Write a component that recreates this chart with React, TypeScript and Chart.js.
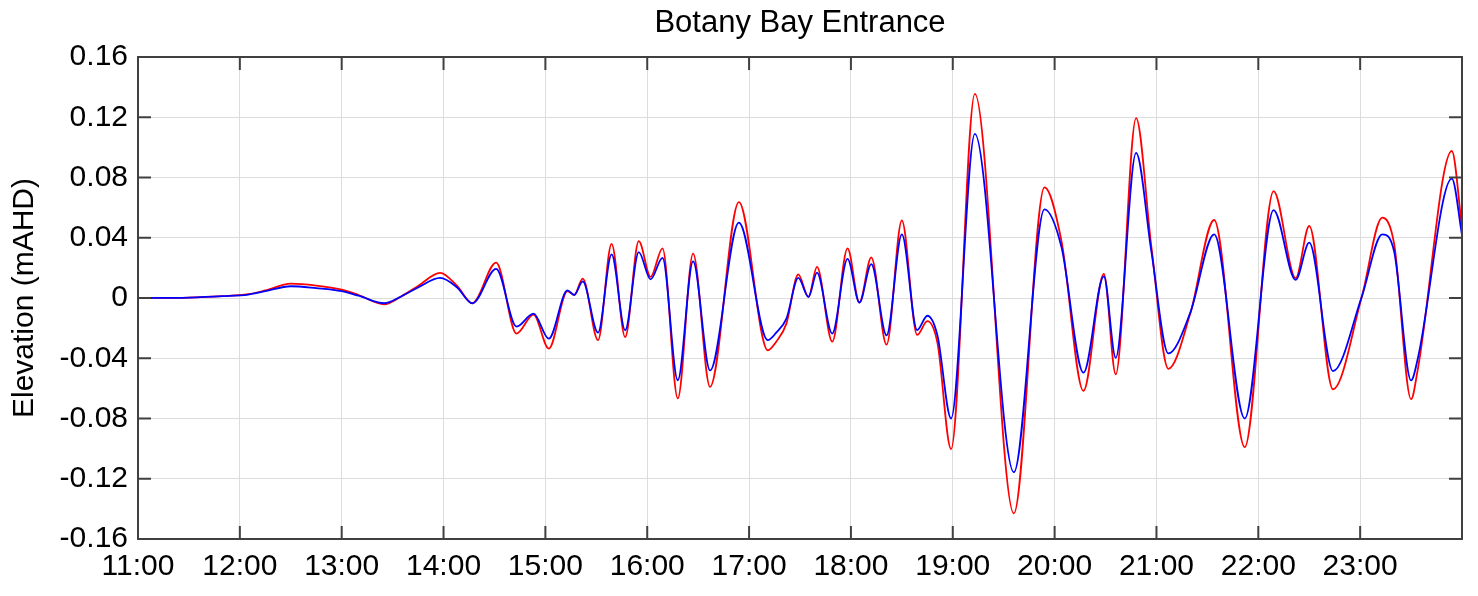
import React, { useEffect, useRef } from "react";
import { Chart, registerables } from "chart.js";

Chart.register(...registerables);

const chartTitle = "Botany Bay Entrance";
const yAxisTitle = "Elevation (mAHD)";

const times = [
  "11:00", "11:30", "11:50", "12:05", "12:15", "12:30", "12:45", "13:00", "13:10", "13:25",
  "13:35", "13:45", "13:58", "14:08", "14:17", "14:31", "14:43", "14:53", "15:02", "15:13",
  "15:17", "15:22", "15:31", "15:39", "15:47", "15:55", "16:02", "16:09", "16:18", "16:27",
  "16:37", "16:54", "17:11", "17:16", "17:22", "17:29", "17:35", "17:40", "17:49", "17:58",
  "18:05", "18:12", "18:21", "18:30", "18:39", "18:45", "18:51", "18:59", "19:13", "19:36",
  "19:54", "20:04", "20:17", "20:29", "20:36", "20:48", "20:57", "21:07", "21:20", "21:34",
  "21:52", "22:09", "22:22", "22:30", "22:44", "23:01", "23:13", "23:20", "23:30", "23:34",
  "23:54", "24:00",
];

const redElevation = [
  0, 0.0003, 0.0012, 0.0025, 0.005, 0.0095, 0.0082, 0.0055, 0.002, -0.0042,
  0.001, 0.008, 0.0167, 0.008, -0.0035, 0.0235, -0.0236, -0.011, -0.0336, 0.0045,
  0.002, 0.0128, -0.028, 0.036, -0.026, 0.0378, 0.014, 0.033, -0.0667, 0.0294,
  -0.059, 0.0637, -0.0347, -0.029, -0.017, 0.0157, 0.0007, 0.0206, -0.029, 0.033,
  -0.003, 0.027, -0.031, 0.0516, -0.0245, -0.0154, -0.03, -0.1003, 0.1355, -0.143,
  0.0734, 0.038, -0.0617, 0.016, -0.0507, 0.1194, 0.034, -0.047, -0.01, 0.0518,
  -0.099, 0.071, 0.0132, 0.0478, -0.0606, 0.001, 0.0533, 0.036, -0.0672, -0.047,
  0.0976, 0.047,
];

const blueElevation = [
  0, 0.0003, 0.0012, 0.0023, 0.0045, 0.0078, 0.0065, 0.0045, 0.0015, -0.0035,
  0.001, 0.007, 0.0133, 0.007, -0.0035, 0.0194, -0.019, -0.0104, -0.027, 0.005,
  0.002, 0.011, -0.023, 0.029, -0.0214, 0.0305, 0.0124, 0.0267, -0.0546, 0.0243,
  -0.048, 0.05, -0.028, -0.023, -0.0137, 0.0133, 0.0007, 0.0168, -0.0236, 0.026,
  -0.003, 0.0225, -0.0248, 0.0423, -0.0213, -0.0118, -0.025, -0.08, 0.109, -0.1157,
  0.0588, 0.034, -0.0496, 0.0143, -0.0397, 0.0963, 0.031, -0.0368, -0.0095, 0.0423,
  -0.08, 0.0584, 0.012, 0.0368, -0.0485, 0.001, 0.0423, 0.031, -0.0547, -0.04,
  0.0793, 0.042,
];

const xTickHours = [11, 12, 13, 14, 15, 16, 17, 18, 19, 20, 21, 22, 23, 24];
const yTickValues = [-0.16, -0.12, -0.08, -0.04, 0, 0.04, 0.08, 0.12, 0.16];

const FONT = '"Liberation Sans", Arial, Helvetica, sans-serif';

function toHours(t: string): number {
  const [h, m] = t.split(":").map(Number);
  return h + m / 60;
}

const matlabAxesPlugin = {
  id: "matlabAxes",
  afterDraw(chart: any) {
    const { ctx, chartArea: a, scales } = chart;
    ctx.save();
    // Title
    ctx.fillStyle = "#000";
    ctx.font = `31px ${FONT}`;
    ctx.textAlign = "center";
    ctx.textBaseline = "alphabetic";
    ctx.fillText(chartTitle, (a.left + a.right) / 2, 32);
    // Y axis title
    ctx.save();
    ctx.translate(33, (a.top + a.bottom) / 2);
    ctx.rotate(-Math.PI / 2);
    ctx.font = `30px ${FONT}`;
    ctx.textAlign = "center";
    ctx.textBaseline = "alphabetic";
    ctx.fillText(yAxisTitle, 0, 0);
    ctx.restore();
    // Frame
    ctx.strokeStyle = "#404040";
    ctx.lineWidth = 2;
    ctx.strokeRect(a.left, a.top, a.right - a.left, a.bottom - a.top);
    // Inward ticks
    const tl = 13;
    ctx.beginPath();
    for (const h of xTickHours) {
      const px = scales.x.getPixelForValue(h);
      if (px <= a.left + 1 || px >= a.right - 1) continue;
      ctx.moveTo(px, a.bottom);
      ctx.lineTo(px, a.bottom - tl);
      ctx.moveTo(px, a.top);
      ctx.lineTo(px, a.top + tl);
    }
    for (const v of yTickValues) {
      const py = scales.y.getPixelForValue(v);
      if (py <= a.top + 1 || py >= a.bottom - 1) continue;
      ctx.moveTo(a.left, py);
      ctx.lineTo(a.left + tl, py);
      ctx.moveTo(a.right, py);
      ctx.lineTo(a.right - tl, py);
    }
    ctx.stroke();
    ctx.restore();
  },
};

export default function App() {
  const canvasRef = useRef<HTMLCanvasElement | null>(null);

  useEffect(() => {
    document.body.style.margin = "0";
    const canvas = canvasRef.current;
    if (!canvas) return;
    const xs = times.map(toHours);
    const chart = new Chart(canvas, {
      type: "line",
      data: {
        datasets: [
          {
            label: "blue",
            data: xs.map((x, i) => ({ x, y: blueElevation[i] })),
            borderColor: "#0000ff",
            borderWidth: 1.8,
            pointRadius: 0,
            cubicInterpolationMode: "monotone",
            fill: false,
          },
          {
            label: "red",
            data: xs.map((x, i) => ({ x, y: redElevation[i] })),
            borderColor: "#ff0000",
            borderWidth: 1.8,
            pointRadius: 0,
            cubicInterpolationMode: "monotone",
            fill: false,
          },
        ],
      },
      options: {
        animation: false,
        responsive: true,
        maintainAspectRatio: false,
        layout: { padding: { left: 0, right: 16, top: 57, bottom: 0 } },
        plugins: {
          legend: { display: false },
          tooltip: { enabled: false },
          title: { display: false },
        },
        scales: {
          x: {
            type: "linear",
            min: 11,
            max: 24,
            afterBuildTicks: (s: any) => {
              s.ticks = xTickHours.map((v) => ({ value: v }));
            },
            afterFit: (s: any) => {
              s.height = 57;
            },
            ticks: {
              autoSkip: false,
              maxRotation: 0,
              padding: 10,
              color: "#000",
              font: { family: FONT, size: 30 },
              callback: (v: any) => (Number(v) >= 24 ? "" : `${Number(v)}:00`),
            },
            grid: { color: "#dcdcdc", lineWidth: 1, drawTicks: false },
            border: { display: false },
          },
          y: {
            type: "linear",
            min: -0.16,
            max: 0.16,
            afterBuildTicks: (s: any) => {
              s.ticks = yTickValues.map((v) => ({ value: v }));
            },
            afterFit: (s: any) => {
              s.width = 138;
            },
            ticks: {
              padding: 10,
              color: "#000",
              font: { family: FONT, size: 30 },
              callback: (v: any) => {
                const n = Number(v);
                return Math.abs(n) < 1e-9 ? "0" : n.toFixed(2);
              },
            },
            grid: { color: "#dcdcdc", lineWidth: 1, drawTicks: false },
            border: { display: false },
          },
        },
      },
      plugins: [matlabAxesPlugin],
    } as any);
    return () => chart.destroy();
  }, []);

  return (
    <div style={{ position: "relative", width: "1478px", height: "596px" }}>
      <canvas ref={canvasRef} />
    </div>
  );
}
